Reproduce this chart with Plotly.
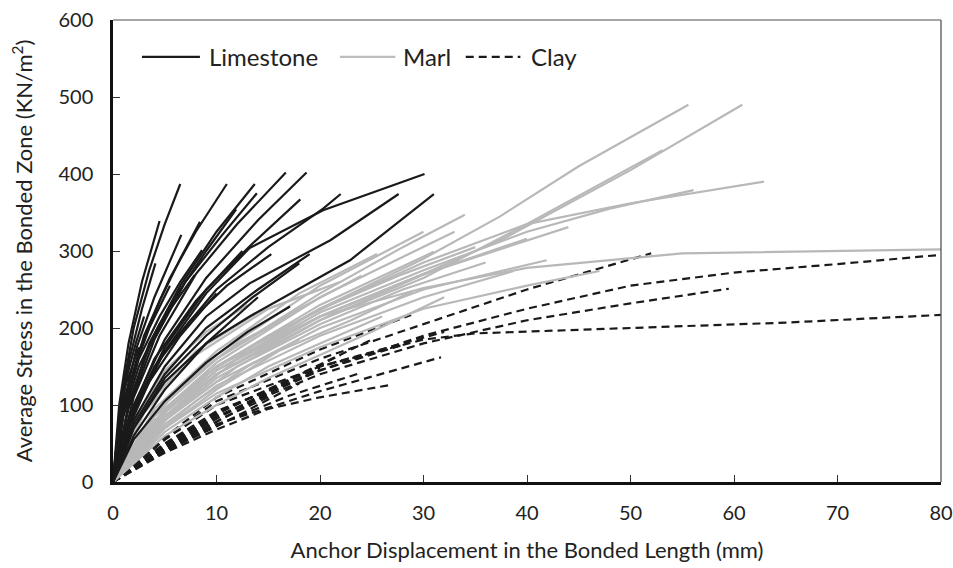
import plotly.graph_objects as go

# ---------------- data ----------------
limestone_x = [
    [0, 0.8, 2, 3.5, 5, 6.5],
    [0, 0.6, 1.5, 2.8, 4.5],
    [0, 0.7, 1.6, 2.8, 4.1],
    [0, 1, 2.5, 4.5, 6.5, 8.4],
    [0, 1, 2.3, 4, 6.6],
    [0, 1.2, 3, 5.5, 8, 11],
    [0, 1.5, 3.5, 6.5, 10, 13.7],
    [0, 1.5, 3.5, 6, 9, 11.9],
    [0, 1.5, 4, 7, 10.5, 13.9],
    [0, 2, 4.5, 8, 12, 16.7],
    [0, 2, 5, 9, 14, 18.7],
    [0, 2, 5, 9, 13.5, 18.1],
    [0, 2, 5, 10, 15, 20.3, 22],
    [0, 2, 5, 9, 13.2, 20.3, 30.1],
    [0, 2, 5, 9, 13.2, 21, 27.6],
    [0, 2, 5, 9, 13.2, 22.9, 31],
    [0, 1.5, 4, 7.5, 11, 15.3],
    [0, 2, 5, 9, 14, 19],
    [0, 2, 5, 9, 13.5, 18],
    [0, 2, 5, 9, 13, 17.1],
    [0, 1, 2.5, 4.5, 6.5, 8.6],
    [0, 1, 2.5, 4.5, 7.9],
    [0, 0.6, 1.4, 2.2, 3],
    [0, 0.8, 2, 3.5, 5.5],
    [0, 1.5, 3.5, 6.5, 10],
    [0, 1.5, 4, 8, 12.5],
    [0, 0.5, 1.2, 2.5],
    [0, 2, 5, 9, 14],
]
limestone_y = [
    [0, 110, 200, 275, 335, 387],
    [0, 100, 180, 260, 339],
    [0, 90, 160, 225, 284],
    [0, 95, 170, 235, 290, 338],
    [0, 100, 175, 240, 321],
    [0, 105, 190, 265, 325, 387],
    [0, 100, 180, 255, 325, 387],
    [0, 100, 175, 240, 300, 354],
    [0, 95, 185, 260, 320, 375],
    [0, 110, 190, 270, 335, 402],
    [0, 100, 185, 265, 340, 402],
    [0, 95, 175, 250, 310, 367],
    [0, 95, 170, 250, 305, 355, 374],
    [0, 90, 170, 245, 304, 353, 400],
    [0, 80, 150, 215, 258, 314, 374],
    [0, 70, 130, 180, 215, 288, 374],
    [0, 80, 150, 210, 255, 296],
    [0, 75, 140, 200, 250, 296],
    [0, 70, 135, 190, 240, 284],
    [0, 55, 105, 155, 195, 228],
    [0, 90, 160, 215, 260, 301],
    [0, 85, 150, 205, 269],
    [0, 85, 140, 180, 215],
    [0, 80, 145, 200, 255],
    [0, 70, 130, 190, 245],
    [0, 80, 160, 235, 300],
    [0, 70, 125, 175],
    [0, 60, 120, 180, 240],
]

marl_x = [
    [0, 4, 10, 20, 30, 37.4, 45, 55.6],
    [0, 5, 10, 20, 30, 38, 50, 60.8],
    [0, 5, 10, 20, 30, 40, 53.1],
    [0, 5, 10, 20, 30, 40, 50, 62.9],
    [0, 5, 10, 20, 30, 40, 48, 56.1],
    [0, 5, 10, 20, 30, 44],
    [0, 5, 10, 20, 30, 40],
    [0, 5, 10, 20, 30, 41.9],
    [0, 5, 10, 20, 30, 38.7],
    [0, 5, 10, 20, 30, 40, 47],
    [0, 5, 10, 20, 30, 40, 55, 80],
    [0, 4, 10, 20, 28, 34],
    [0, 4, 10, 20, 30],
    [0, 5, 10, 20, 33],
    [0, 4, 10, 18, 25.5],
    [0, 5, 10, 20, 31],
    [0, 5, 10, 20, 30.8],
    [0, 4, 10, 18, 24],
    [0, 3, 8, 15, 22],
    [0, 3, 8, 14, 20],
    [0, 4, 9, 15, 21, 27],
    [0, 5, 10, 16, 23, 29],
    [0, 5, 10, 15, 20, 26],
    [0, 4, 8, 13, 18],
    [0, 3, 7, 12, 17],
    [0, 2, 5, 9, 13],
    [0, 5, 10, 15, 20, 25, 32],
    [0, 5, 12, 20, 28, 36],
    [0, 6, 12, 20, 28, 35],
]
marl_y = [
    [0, 85, 150, 225, 290, 345, 410, 490],
    [0, 90, 145, 215, 270, 318, 405, 490],
    [0, 85, 140, 210, 265, 335, 431],
    [0, 90, 150, 225, 285, 335, 362, 390],
    [0, 85, 145, 220, 275, 325, 355, 379],
    [0, 80, 140, 215, 270, 331],
    [0, 85, 140, 215, 270, 316],
    [0, 80, 130, 200, 250, 288],
    [0, 75, 125, 190, 240, 274],
    [0, 70, 115, 175, 225, 255, 274],
    [0, 90, 150, 215, 252, 278, 297, 302],
    [0, 90, 160, 245, 305, 347],
    [0, 90, 165, 255, 325],
    [0, 95, 155, 240, 325],
    [0, 95, 170, 245, 296],
    [0, 90, 150, 230, 299],
    [0, 80, 135, 210, 274],
    [0, 90, 160, 225, 268],
    [0, 90, 165, 225, 260],
    [0, 95, 170, 220, 250],
    [0, 80, 140, 190, 230, 265],
    [0, 70, 120, 170, 210, 248],
    [0, 65, 110, 150, 180, 215],
    [0, 60, 105, 150, 185],
    [0, 70, 130, 180, 215],
    [0, 80, 145, 195, 230],
    [0, 60, 100, 135, 165, 195, 240],
    [0, 80, 150, 205, 250, 285],
    [0, 95, 160, 225, 270, 305],
]

clay_x = [
    [0, 5, 10, 20, 30, 35, 50, 65, 80],
    [0, 5, 10, 20, 30, 40, 50, 60, 70, 80],
    [0, 5, 10, 20, 30, 40, 52],
    [0, 5, 10, 20, 30, 40, 50, 59.5],
    [0, 5, 10, 20, 31.7],
    [0, 5, 10, 15, 20, 26.8],
    [0, 5, 10, 20, 28.8],
    [0, 5, 10, 20, 32],
    [0, 5, 10, 18, 25],
    [0, 5, 10, 16, 22],
    [0, 5, 10, 15, 20],
    [0, 5, 10, 14, 18],
    [0, 4, 8, 12, 15],
    [0, 5, 10, 17, 24],
    [0, 5, 10, 20, 28],
]
clay_y = [
    [0, 55, 100, 150, 185, 193, 200, 207, 217],
    [0, 50, 92, 145, 190, 225, 255, 272, 283, 295],
    [0, 55, 105, 160, 205, 250, 297],
    [0, 45, 85, 140, 180, 210, 232, 251],
    [0, 42, 75, 118, 162],
    [0, 38, 68, 95, 110, 126],
    [0, 58, 110, 172, 217],
    [0, 48, 90, 150, 195],
    [0, 46, 88, 140, 185],
    [0, 44, 82, 125, 165],
    [0, 42, 78, 115, 148],
    [0, 40, 72, 100, 128],
    [0, 35, 65, 92, 110],
    [0, 40, 74, 112, 142],
    [0, 45, 85, 145, 178],
]

x_ticks = [0, 10, 20, 30, 40, 50, 60, 70, 80]
y_ticks = [0, 100, 200, 300, 400, 500, 600]
legend_names = ["Limestone", "Marl", "Clay"]

FONT = "Lato"
BLACK = "#1a1a1a"
GRAY = "#b8b8b8"

fig = go.Figure()

for xs, ys in zip(clay_x, clay_y):
    fig.add_trace(go.Scatter(x=xs, y=ys, mode="lines", showlegend=False,
                             line=dict(color=BLACK, width=2.2, dash="8px,5px")))
for xs, ys in zip(marl_x, marl_y):
    fig.add_trace(go.Scatter(x=xs, y=ys, mode="lines", showlegend=False,
                             line=dict(color=GRAY, width=2.2)))
for xs, ys in zip(limestone_x, limestone_y):
    fig.add_trace(go.Scatter(x=xs, y=ys, mode="lines", showlegend=False,
                             line=dict(color=BLACK, width=2.2)))

# manual legend
leg_y = 0.92
leg_items = [
    (0.035, 0.105, 0.113, BLACK, "solid"),
    (0.274, 0.341, 0.348, "#bdbdbd", "solid"),
    (0.426, 0.492, 0.502, BLACK, "8px,5px"),
]
for (x0, x1, xt, col, dsh), name in zip(leg_items, legend_names):
    fig.add_shape(type="line", xref="paper", yref="paper", x0=x0, x1=x1,
                  y0=leg_y, y1=leg_y, line=dict(color=col, width=2.2, dash=dsh))
    fig.add_annotation(xref="paper", yref="paper", x=xt, y=leg_y, text=name,
                       showarrow=False, xanchor="left", yanchor="middle",
                       font=dict(family=FONT, size=24, color="#222"))

# top & right frame lines (thin)
fig.add_shape(type="line", xref="paper", yref="paper", x0=0, x1=1, y0=1, y1=1,
              line=dict(color="#8a8a8a", width=1.3))
fig.add_shape(type="line", xref="paper", yref="paper", x0=1, x1=1, y0=0, y1=1,
              line=dict(color="#555", width=1.3))

fig.update_layout(
    width=953, height=568,
    margin=dict(l=113, r=12, t=20, b=86),
    paper_bgcolor="white", plot_bgcolor="white",
    showlegend=False,
    font=dict(family=FONT, color="#222"),
)
fig.update_xaxes(
    range=[0, 80], tickvals=x_ticks, ticktext=[str(v) for v in x_ticks],
    showgrid=False, zeroline=False, showline=True, linecolor="#111", linewidth=2.5,
    ticks="inside", ticklen=7, tickcolor="#333", tickwidth=1.2,
    tickfont=dict(family=FONT, size=20, color="#222"), ticklabelstandoff=11,
    title=dict(text="Anchor Displacement in the Bonded Length (mm)",
               font=dict(family=FONT, size=22, color="#222"), standoff=20),
    automargin=False,
)
fig.update_yaxes(
    range=[0, 600], tickvals=y_ticks, ticktext=[str(v) for v in y_ticks],
    showgrid=False, zeroline=False, showline=True, linecolor="#111", linewidth=2.5,
    ticks="inside", ticklen=7, tickcolor="#333", tickwidth=1.2,
    tickfont=dict(family=FONT, size=20, color="#222"), ticklabelstandoff=13,
    title=dict(text="Average Stress in the Bonded Zone (KN/m<sup>2</sup>)",
               font=dict(family=FONT, size=22, color="#222"), standoff=20),
    automargin=False,
)

fig.write_html("out.html")
